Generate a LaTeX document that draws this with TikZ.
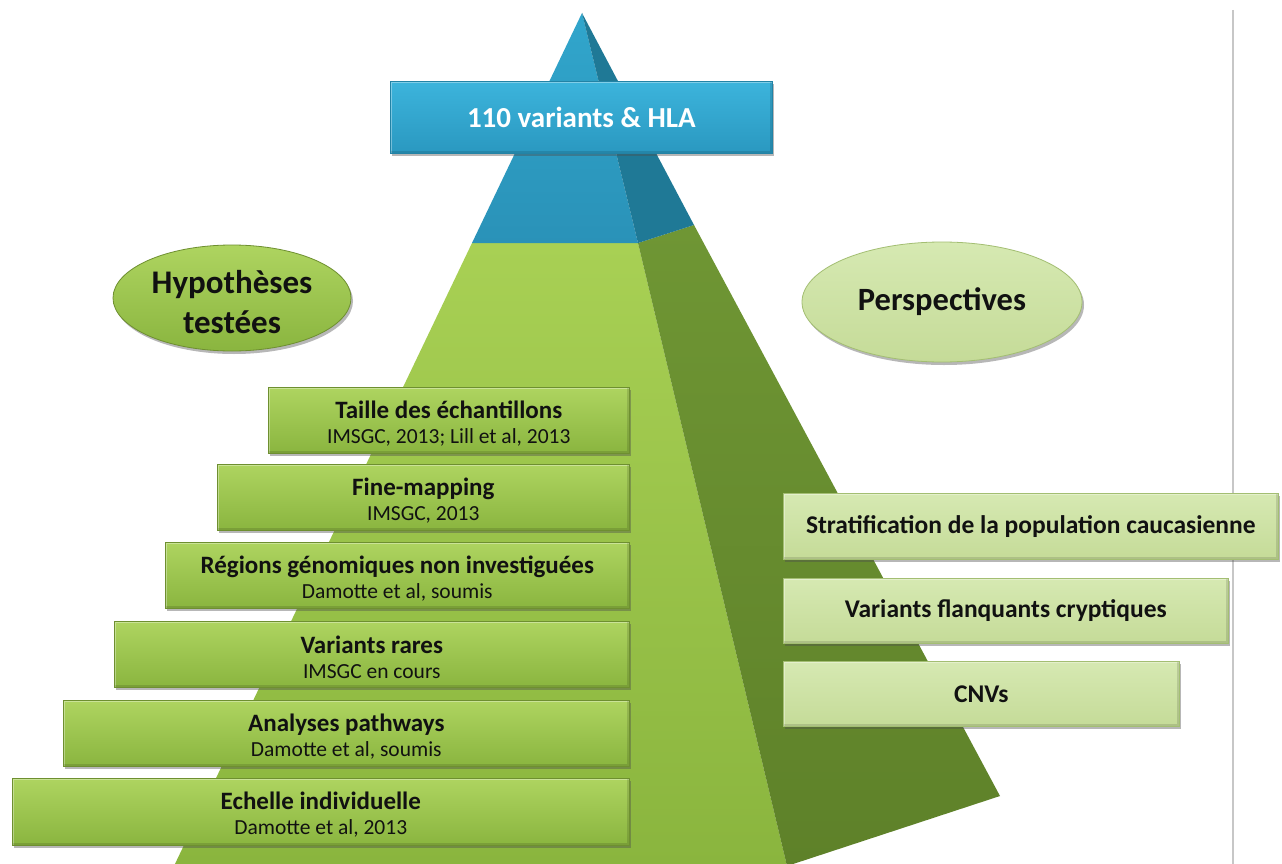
\documentclass[tikz,border=0pt]{standalone}
\usepackage{fontspec}
\setmainfont{Carlito}
\usetikzlibrary{shadows,shapes.geometric}
\definecolor{gfront1}{HTML}{A8D054}
\definecolor{gfront2}{HTML}{8AB53E}
\definecolor{gright1}{HTML}{6F9634}
\definecolor{gright2}{HTML}{5E8129}
\definecolor{bfront1}{HTML}{31A6CC}
\definecolor{bfront2}{HTML}{2A92B8}
\definecolor{bright}{HTML}{1F7996}
\definecolor{lgtop}{HTML}{AED460}
\definecolor{lgbot}{HTML}{8AB53F}
\definecolor{lgdraw}{HTML}{6E8F30}
\definecolor{rgtop}{HTML}{D6E9B2}
\definecolor{rgbot}{HTML}{C5DB98}
\definecolor{rgdraw}{HTML}{A3BE72}
\definecolor{bltop}{HTML}{3CB4DC}
\definecolor{blbot}{HTML}{2A98C0}
\definecolor{bldraw}{HTML}{2283A6}
\definecolor{txt}{HTML}{111111}
\begin{document}
\begin{tikzpicture}[x=1pt,y=-1pt,
  bevel/.style={path picture={
      \draw[white,opacity=0.35,line width=4pt]
        (path picture bounding box.south west) -- (path picture bounding box.north west)
        -- (path picture bounding box.north east);
      \draw[black,opacity=0.12,line width=4pt]
        (path picture bounding box.north east) -- (path picture bounding box.south east)
        -- (path picture bounding box.south west);}},
  shadowed/.style={drop shadow={shadow xshift=2pt,shadow yshift=-3pt,opacity=0.4,fill=black!70}},
  lbox/.style={rectangle, anchor=north west, draw=lgdraw, line width=0.6pt,
    top color=lgtop, bottom color=lgbot, shadowed, bevel, inner sep=0pt},
  ltext/.style={align=center, text=txt, inner sep=0pt, font=\fontsize{21.5}{25}\selectfont},
  rbox/.style={rectangle, anchor=north west, draw=rgdraw, line width=0.6pt,
    top color=rgtop, bottom color=rgbot, shadowed, bevel, inner sep=0pt,
    align=center, text=txt, font=\fontsize{25.5}{30}\selectfont\bfseries},
  hl/.style={ellipse, inner sep=0pt, align=center, text=txt,
    font=\fontsize{33}{38}\selectfont\bfseries, shadowed},
]
\useasboundingbox (0,0) rectangle (1282,864);
\fill[white] (0,0) rectangle (1282,864);
% separator line
\draw[black!22, line width=1.5pt] (1233,10) -- (1233,864);
% pyramid
\shade[top color=gfront1, bottom color=gfront2] (472,243) -- (638,243) -- (787,866) -- (174,866) -- cycle;
\shade[top color=gright1, bottom color=gright2] (638,243) -- (694,225) -- (1000,796) -- (787,866) -- cycle;
\shade[top color=bfront1, bottom color=bfront2] (582,13) -- (638,243) -- (472,243) -- cycle;
\fill[bright] (582,13) -- (694,225) -- (638,243) -- cycle;
% top box
\node[rectangle, anchor=north west, draw=bldraw, line width=0.6pt, top color=bltop, bottom color=blbot,
  shadowed, bevel, minimum width=382pt, minimum height=72pt, text=white,
  font=\fontsize{29}{34}\selectfont\bfseries] (top) at (390,81) {110 variants \& HLA};
% ellipses
\node[hl, draw=lgdraw, line width=0.8pt, top color=lgtop, bottom color=lgbot,
  minimum width=238pt, minimum height=106pt] (hyp) at (232,298) {};
\node[align=center, text=txt, inner sep=0pt, font=\fontsize{33}{40}\selectfont\bfseries]
  (hypt) at ([yshift=-4pt]hyp.center) {Hypothèses\\testées};
\node[hl, draw=rgdraw, line width=0.8pt, top color=rgtop, bottom color=rgbot,
  minimum width=280pt, minimum height=120pt, font=\fontsize{32.5}{38}\selectfont\bfseries] (persp) at (942,302) {Perspectives};
% left boxes
\newcommand{\twoline}[2]{{\fontsize{25}{25}\selectfont\bfseries #1}\\{#2}}
\node[lbox, minimum width=361pt, minimum height=66pt] (b1) at (268,387) {};
\node[lbox, minimum width=412pt, minimum height=66pt] (b2) at (217,464) {};
\node[lbox, minimum width=464pt, minimum height=66pt] (b3) at (165,542) {};
\node[lbox, minimum width=515pt, minimum height=66pt] (b4) at (114,621) {};
\node[lbox, minimum width=566pt, minimum height=66pt] (b5) at (63,700) {};
\node[lbox, minimum width=617pt, minimum height=67pt] (b6) at (12,778) {};
\node[ltext] (t1) at ([yshift=-3pt]b1.center) {\twoline{Taille des échantillons}{IMSGC, 2013; Lill et al, 2013}};
\node[ltext] (t2) at ([yshift=-3pt]b2.center) {\twoline{Fine-mapping}{IMSGC, 2013}};
\node[ltext] (t3) at ([yshift=-3pt]b3.center) {\twoline{Régions génomiques non investiguées}{Damotte et al, soumis}};
\node[ltext] (t4) at ([yshift=-3pt]b4.center) {\twoline{Variants rares}{IMSGC en cours}};
\node[ltext] (t5) at ([yshift=-3pt]b5.center) {\twoline{Analyses pathways}{Damotte et al, soumis}};
\node[ltext] (t6) at ([yshift=-3pt]b6.center) {\twoline{Echelle individuelle}{Damotte et al, 2013}};
% right boxes
\node[rbox, minimum width=495pt, minimum height=66pt] (r1) at (783,493) {Stratification de la population caucasienne};
\node[rbox, minimum width=445pt, minimum height=65pt] (r2) at (783,578) {Variants flanquants cryptiques};
\node[rbox, minimum width=396pt, minimum height=65pt] (r3) at (783,661) {CNVs};
\end{tikzpicture}
\end{document}
